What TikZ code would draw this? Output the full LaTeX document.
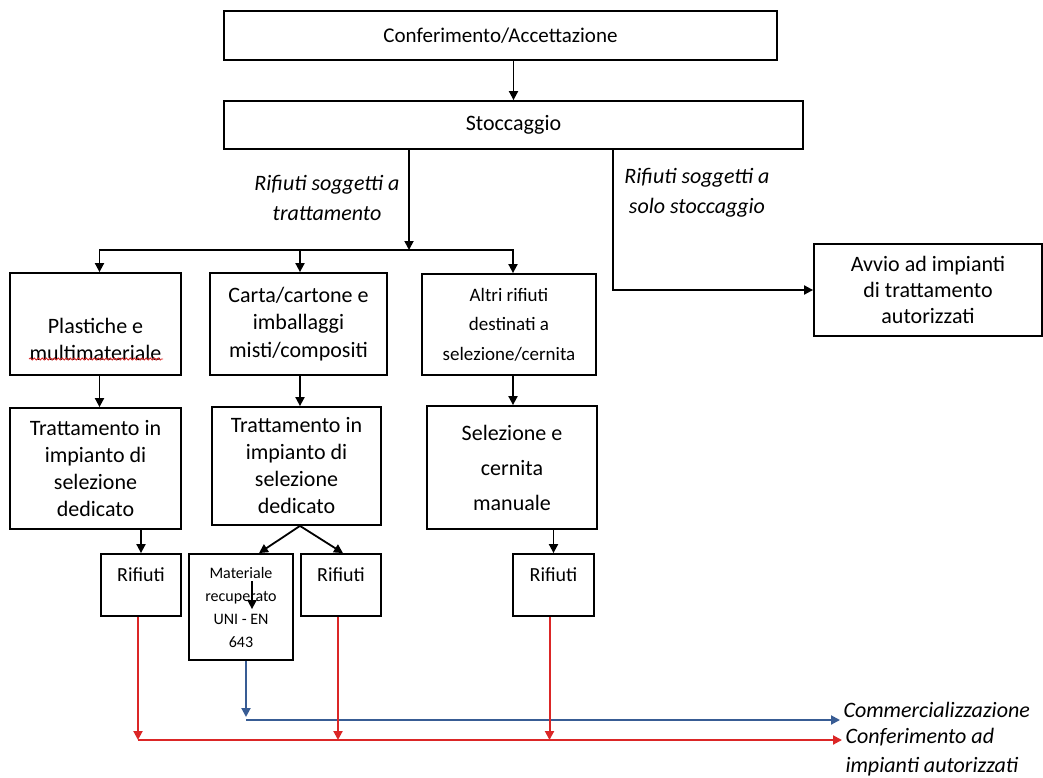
\documentclass[tikz,border=0pt]{standalone}
\usepackage{fontspec}
\setmainfont{Carlito}
\usepackage{tikz}
\usetikzlibrary{arrows.meta,decorations.pathmorphing}
\definecolor{black}{rgb}{0,0,0}
\definecolor{wastered}{rgb}{0.86,0.15,0.15}
\definecolor{salesblue}{rgb}{0.22,0.36,0.58}

\begin{document}
\begin{tikzpicture}[x=1pt,y=-1pt]
    \useasboundingbox (0,0) rectangle (1043,778);

    \tikzstyle{stage}=[draw=black,line width=1.8pt,align=center,inner sep=2pt,font=\fontsize{22}{27}\selectfont]
    \tikzstyle{small}=[stage,font=\fontsize{19}{29.5}\selectfont]
    \tikzstyle{waste}=[stage,minimum width=80pt,minimum height=62pt,font=\fontsize{20}{20}\selectfont]
    \tikzstyle{flow}=[align=center,font=\fontsize{22}{30}\selectfont\itshape]

    \node[stage,minimum width=553pt,minimum height=49pt,font=\fontsize{21}{26}\selectfont]  (conf) at (500.5,35.5) {Conferimento/Accettazione};
    \node[stage,minimum width=579pt,minimum height=48pt]  (stocc) at (513.5,125) {Stoccaggio};

    \node[flow]  (lblTratt) at (327,198) {Rifiuti soggetti a\\trattamento};
    \node[flow]  (lblStocc) at (697,193) {Rifiuti soggetti a\\solo stoccaggio};

    \node[stage,minimum width=171pt,minimum height=102pt]  (plast) at (95.5,324) {\rule{0pt}{0pt}\\[20pt]Plastiche e\\multimateriale};
    \node[stage,minimum width=177pt,minimum height=102pt,font=\fontsize{22}{27.5}\selectfont]  (carta) at (298.5,324) {Carta/cartone e\\imballaggi\\misti/compositi};
    \node[small,minimum width=174pt,minimum height=101pt]  (altri) at (509,324.5) {Altri rifiuti\\destinati a\\selezione/cernita};
    \node[stage,minimum width=228pt,minimum height=92pt,font=\fontsize{22}{26}\selectfont]  (avvio) at (928,290) {Avvio ad impianti\\di trattamento\\autorizzati};

    \node[stage,minimum width=171pt,minimum height=121pt]  (tratt1) at (95.5,468.5) {Trattamento in\\impianto di\\selezione\\dedicato};
    \node[stage,minimum width=169pt,minimum height=118pt]  (tratt2) at (296.5,466) {Trattamento in\\impianto di\\selezione\\dedicato};
    \node[stage,minimum width=170pt,minimum height=123pt,font=\fontsize{22}{35}\selectfont]  (selez) at (512,467.5) {Selezione e\\cernita\\manuale};

    \node[waste]  (rif1) at (141,585) {Rifiuti\\\mbox{}};
    \node[stage,minimum width=104pt,minimum height=106pt,font=\fontsize{16}{23}\selectfont]  (mater) at (241,607) {Materiale\\recuperato\\UNI - EN\\643};
    \node[waste]  (rif2) at (341,585) {Rifiuti\\\mbox{}};
    \node[waste,minimum width=81pt]  (rif3) at (553.5,585) {Rifiuti\\\mbox{}};

    \node[flow,anchor=west]  (comm) at (840,710) {Commercializzazione};
    \node[flow,anchor=west,align=left,font=\fontsize{22}{29}\selectfont\itshape]  (confad) at (842,752) {Conferimento ad\\impianti autorizzati};

    % spell-check mark under multimateriale
    \draw[wastered,line width=0.8pt,decorate,decoration={snake,amplitude=1pt,segment length=4pt}] (29,359) -- (163,359);

    \coordinate (bus) at (409,250);
    \coordinate (turn) at (613,288);
    \coordinate (blueturn) at (246,720);
    \coordinate (redturn) at (138,740);

    \tikzstyle{fwd} = [draw=black, line width=1.8pt, -{Triangle[length=9pt,width=9pt]}]
    \tikzstyle{sale} = [draw=salesblue, line width=2pt, -{Triangle[length=9pt,width=9pt]}]
    \tikzstyle{dump} = [draw=wastered, line width=2pt, -{Triangle[length=9pt,width=9pt]}]

          \draw [fwd] (conf.south -| stocc.north) -- (stocc.north);
          \draw [fwd] (stocc.south -| bus) -- (bus);
          \draw [fwd] (bus) -| ([xshift=4pt]plast.north);
          \draw [fwd] (bus) -| ([xshift=1.5pt]carta.north);
          \draw [fwd] (bus) -| ([xshift=4pt]altri.north);
          \draw [fwd] (stocc.south -| turn) |- (avvio.west);

          \draw [fwd] ([xshift=4pt]plast.south) -- ([xshift=4pt]tratt1.north);
          \draw [fwd] ([xshift=1.5pt]carta.south) -- ([xshift=3.5pt]tratt2.north);
          \draw [fwd] ([xshift=4pt]altri.south) -- ([xshift=1pt]selez.north);

          \draw [fwd] (tratt1.south -| rif1.north) -- (rif1.north);
          \draw [fwd] ([xshift=3.5pt]tratt2.south) -- ([xshift=18pt]mater.north);
          \draw [fwd] ([xshift=3.5pt]tratt2.south) -- ([xshift=2pt]rif2.north);
          \draw [fwd] ([xshift=11pt,yshift=-28pt]mater.north) -- ([xshift=11pt,yshift=-56pt]mater.north);
          \draw [fwd] (selez.south -| rif3.north) -- (rif3.north);

          \draw [sale] (mater.south -| blueturn) -- ([yshift=3pt]blueturn);
          \draw [sale] (blueturn) -- (blueturn -| comm.west);

          \draw [dump] (rif1.south -| redturn) -- (redturn);
          \draw [dump] ([xshift=-3pt]rif2.south) -- ([xshift=-3pt]rif2.south |- redturn);
          \draw [dump] ([xshift=-4pt]rif3.south) -- ([xshift=-4pt]rif3.south |- redturn);
          \draw [dump] (redturn) -- (redturn -| confad.west);

  \end{tikzpicture}
\end{document}
